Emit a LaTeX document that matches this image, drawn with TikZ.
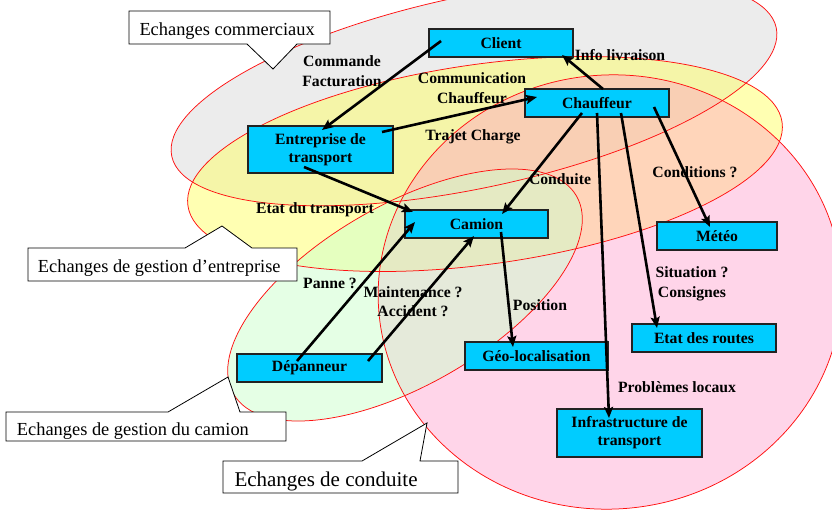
\documentclass[tikz,border=0pt]{standalone}
\usepackage{fontspec}
\setmainfont{Liberation Serif}
\usetikzlibrary{arrows.meta}
\definecolor{boxcyan}{HTML}{00CCFF}
\definecolor{elgray}{HTML}{DADADA}
\definecolor{elyellow}{HTML}{FFFF66}
\definecolor{elpink}{HTML}{FF96C8}
\definecolor{elgreen}{HTML}{CCFFCC}
\definecolor{elred}{HTML}{FF1010}
\definecolor{boxline}{HTML}{222222}
\tikzset{
  zone/.style={fill opacity=0.5},
  zoneline/.style={draw=elred, line width=0.75pt},
  box/.style={draw=boxline, fill=boxcyan, line width=1.2pt, minimum width=144pt,
    minimum height=28pt, inner sep=0pt, align=center,
    font=\fontsize{15.7}{18}\selectfont\bfseries},
  lbl/.style={inner sep=0pt, align=center, font=\fontsize{15.7}{19.5}\selectfont\bfseries},
  arr/.style={draw=black, line width=2.6pt, -{Stealth[length=11pt,width=9pt,inset=2pt]}},
  callout/.style={draw=black, fill=white, line width=0.8pt},
  calltext/.style={inner sep=0pt, anchor=base west, font=\fontsize{18.4}{20}\selectfont},
}
\begin{document}
\begin{tikzpicture}[x=1pt,y=-1pt]
\useasboundingbox (0,0) rectangle (832,509);
\clip (0,0) rectangle (832,509);
\fill[white] (0,0) rectangle (832,509);

% zones
\fill[elgray, zone, rotate around={12:(474,92)}] (474,92) ellipse [x radius=309, y radius=96];
\fill[elyellow, zone, rotate around={8:(485,164)}] (485,164) ellipse [x radius=300, y radius=100];
\fill[elpink, fill opacity=0.4, rotate around={6:(610,292)}] (610,292) ellipse [x radius=232, y radius=217];
\fill[elgreen, zone, rotate around={30:(405,295)}] (405,295) ellipse [x radius=198, y radius=90];
\draw[zoneline, rotate around={12:(474,92)}] (474,92) ellipse [x radius=309, y radius=96];
\draw[zoneline, rotate around={8:(485,164)}] (485,164) ellipse [x radius=300, y radius=100];
\draw[zoneline, rotate around={6:(610,292)}] (610,292) ellipse [x radius=232, y radius=217];
\draw[zoneline, rotate around={30:(405,295)}] (405,295) ellipse [x radius=198, y radius=90];

% callouts
\draw[callout] (129,11) -- (330,11) -- (330,44) -- (297,44) -- (273,69) -- (247,44) -- (129,44) -- cycle;
\node[calltext] (c1) at (139.3,35) {Echanges commerciaux};
\draw[callout] (28,248) -- (185,248) -- (222,226) -- (252,248) -- (297,248) -- (297,281) -- (28,281) -- cycle;
\node[calltext] (c2) at (37.7,272) {Echanges de gestion d’entreprise};
\draw[callout] (6,412) -- (168,412) -- (228,377) -- (240,412) -- (286,412) -- (286,441) -- (6,441) -- cycle;
\node[calltext] (c3) at (16.7,435) {Echanges de gestion du camion};
\draw[callout] (223,461) -- (362,461) -- (427,423) -- (420,461) -- (458,461) -- (458,493) -- (223,493) -- cycle;
\node[calltext, font=\fontsize{21}{23}\selectfont] (c4) at (234.3,486.7) {Echanges de conduite};

% labels
\node[lbl] (lcommande) at (342,71) {Commande\\Facturation};
\node[lbl] (lcomm) at (472,88) {Communication\\Chauffeur};
\node[lbl] (ltrajet) at (473,137) {Trajet Charge};
\node[lbl] (linfo) at (620,55) {Info livraison};
\node[lbl] (lconduite) at (560,179) {Conduite};
\node[lbl] (lconditions) at (695,172.5) {Conditions ?};
\node[lbl] (lsituation) at (692,284) {Situation ?\\Consignes};
\node[lbl] (lproblemes) at (677,387.5) {Problèmes locaux};
\node[lbl] (letat) at (315,210) {Etat du transport};
\node[lbl] (lpanne) at (330,283.5) {Panne ?};
\node[lbl] (lmaint) at (413,301.5) {Maintenance ?\\Accident ?};
\node[lbl] (lposition) at (540,305.5) {Position};

% boxes
\node[box] (client) at (501,43) {Client};
\node[box] (chauffeur) at (597,103) {Chauffeur};
\node[box, minimum width=145pt, minimum height=47pt] (entreprise) at (320.5,149.5) {Entreprise de\\transport};
\node[box, minimum width=143pt] (camion) at (476.5,224) {Camion};
\node[box, minimum width=120pt] (meteo) at (717,236) {Météo};
\node[box] (routes) at (704,338) {Etat des routes};
\node[box, minimum width=143pt] (geo) at (536.5,356) {Géo-localisation};
\node[box, minimum width=145pt] (depanneur) at (309.5,368) {Dépanneur};
\node[box, minimum width=145pt, minimum height=48pt] (infra) at (629.5,433) {Infrastructure de\\transport};

% connectors
\draw[arr] ([shift={(-60,-2)}]client.center) -- ([shift={(1.5,-19.5)}]entreprise.center);
\draw[arr] ([shift={(61.5,-17.5)}]entreprise.center) -- ([shift={(-60,-6)}]chauffeur.center);
\draw[arr] ([shift={(6,-14)}]chauffeur.center) -- ([shift={(61,12)}]client.center);
\draw[arr] ([shift={(-15,10)}]chauffeur.center) -- ([shift={(25.5,-10)}]camion.center);
\draw[arr] ([shift={(57,4)}]chauffeur.center) -- ([shift={(-7,-9)}]meteo.center);
\draw[arr] ([shift={(24,10)}]chauffeur.center) -- ([shift={(-47,-10)}]routes.center);
\draw[arr] ([shift={(0,10)}]chauffeur.center) -- ([shift={(-20.5,-15)}]infra.center);
\draw[arr] ([shift={(-16.5,17.5)}]entreprise.center) -- ([shift={(-63.5,-12)}]camion.center);
\draw[arr] ([shift={(-12.5,-7)}]depanneur.center) -- ([shift={(-61.5,-2)}]camion.center);
\draw[arr] ([shift={(58.5,-7)}]depanneur.center) -- ([shift={(-2.5,12)}]camion.center);
\draw[arr] ([shift={(24.5,8)}]camion.center) -- ([shift={(-23.5,-9)}]geo.center);
\end{tikzpicture}
\end{document}
